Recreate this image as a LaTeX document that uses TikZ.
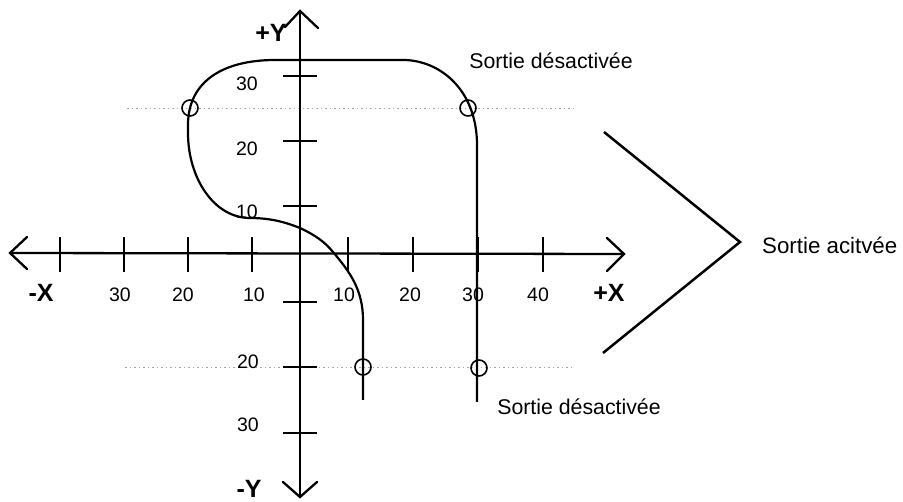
\documentclass[tikz,border=0pt]{standalone}
\usepackage{fontspec}
\setmainfont{Liberation Sans}
\begin{document}
\begin{tikzpicture}[x=1pt,y=-1pt,
  axis/.style={line width=2.3pt,line cap=round},
  tick/.style={line width=2pt},
  curve/.style={line width=2.2pt,line join=round},
  guide/.style={line width=0.7pt,gray!70,dash pattern=on 1.5pt off 3pt},
  ring/.style={circle,draw,line width=1.6pt,minimum size=16pt,inner sep=0pt},
  num/.style={font=\fontsize{19.5}{19.5}\selectfont,inner sep=0pt},
  axlab/.style={font=\bfseries\fontsize{25}{25}\selectfont,inner sep=0pt},
  txt/.style={font=\fontsize{21.3}{23}\selectfont,inner sep=0pt}]
\useasboundingbox (0,0) rectangle (903,502);
% guides
\coordinate (gu1) at (127,108); \coordinate (gu2) at (575,108);
\coordinate (gl1) at (125,367); \coordinate (gl2) at (575,367);
\draw[guide] (gu1) -- (gu2);
\draw[guide] (gl1) -- (gl2);
% axes
\coordinate (xl) at (10,253); \coordinate (xr) at (624,254);
\coordinate (yt) at (300,11); \coordinate (yb) at (300,497);
\draw[axis] (xl) -- (xr);
\draw[axis] (yt) -- (yb);
\draw[axis] (27,237) -- (xl) -- (27,269);
\draw[axis] (607,238) -- (xr) -- (607,271);
\draw[axis] (285,27) -- (yt) -- (318,28);
\draw[axis] (283,482) -- (yb) -- (317,482);
% ticks
\foreach \x in {60,124,188,252,348,413,478,543}
  \draw[tick] (\x,237) -- (\x,272);
\foreach \y in {76,141,206,302,367,433}
  \draw[tick] (283,\y) -- (317,\y);
% curve
\draw[curve] (363,400) -- (363,320)
  .. controls (363,290) and (350,272) .. (333,252)
  .. controls (325,242) and (315,235) .. (300,228)
  .. controls (285,222) and (270,218) .. (250,218)
  .. controls (214,218) and (188,178) .. (188,133)
  -- (188,125)
  .. controls (188,80) and (225,60) .. (275,60)
  -- (403,60)
  .. controls (440,60) and (477,90) .. (477,145)
  -- (477,402);
% rings
\node[ring] (c1) at (190,108) {};
\node[ring] (c2) at (468,108) {};
\node[ring] (c3) at (363,367) {};
\node[ring] (c4) at (479,368) {};
% bracket
\coordinate (b1) at (604,132); \coordinate (b2) at (740,242); \coordinate (b3) at (603,353);
\draw[line width=2.5pt] (b1) -- (b2) -- (b3);
% axis labels
\node[axlab] (ly1) at (271,33) {+Y};
\node[axlab] (ly2) at (249,489) {-Y};
\node[axlab] (lx1) at (41,293) {-X};
\node[axlab] (lx2) at (609,293) {+X};
% numbers
\node[num] (n1) at (120,295) {30};
\node[num] (n2) at (183,295) {20};
\node[num] (n3) at (254,295) {10};
\node[num] (n4) at (344,295) {10};
\node[num] (n5) at (410,295) {20};
\node[num] (n6) at (473,295) {30};
\node[num] (n7) at (538,295) {40};
\node[num] (m1) at (247,84) {30};
\node[num] (m2) at (247,149) {20};
\node[num] (m3) at (247,212) {10};
\node[num] (m4) at (248,362) {20};
\node[num] (m5) at (248,425) {30};
% texts
\node[txt] (t1) at (551,61) {Sortie désactivée};
\node[txt,anchor=west,font=\fontsize{22.3}{24}\selectfont] (t2) at (762,245) {Sortie acitvée};
\node[txt] (t3) at (579,407) {Sortie désactivée};
\end{tikzpicture}
\end{document}
